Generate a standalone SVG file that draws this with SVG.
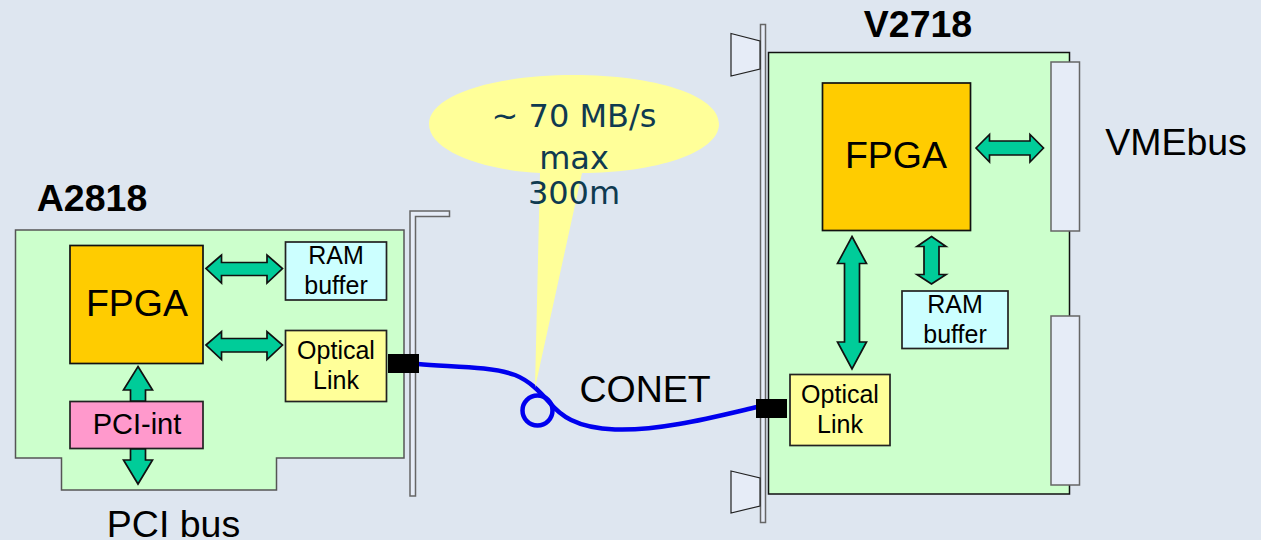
<svg xmlns="http://www.w3.org/2000/svg" width="1261" height="540" viewBox="0 0 1261 540">
<style>
text{font-family:"Liberation Sans",Arial,sans-serif;fill:#000;text-anchor:middle}
.board{fill:#ccffcc;stroke:#555;stroke-width:1.5}
.boardb{fill:#ccffcc;stroke:#111;stroke-width:1.5}
.fpga{fill:#ffcc00;stroke:#111;stroke-width:1.7}
.ram{fill:#ccffff;stroke:#222;stroke-width:1.7}
.opt{fill:#ffff99;stroke:#222;stroke-width:1.7}
.pci{fill:#ff99cc;stroke:#222;stroke-width:1.7}
.arrow{fill:#00cc99;stroke:#111;stroke-width:1.7;stroke-linejoin:miter}
.metal{fill:#e6ecf7;stroke:#666;stroke-width:1.5}
.metalb{fill:#e6ecf7;stroke:#222;stroke-width:1.2}
.conn{fill:#000}
.lbl{font-size:29px}
.big{font-size:37.500px}
.small{font-size:25px}
.head{font-size:37.500px;font-weight:bold}
.ext{font-size:37.500px}
.bub{font-size:32px;fill:#0f3a50;font-family:"DejaVu Sans",sans-serif}
</style>
<rect width="1261" height="540" fill="#dee6f0"/>

<g id="a2818">
<text x="92" y="211" class="head">A2818</text>
<path class="board" d="M15.500 230H404V458H276.500V490H61.500V458H15.500Z"/>
<path id="bracket" class="metal" d="M410 211H449.500V216.500H415.500V496H410Z"/>
</g>
<g id="a-fpga"><rect class="fpga" x="70" y="245.500" width="133" height="118"/><text x="137" y="315.500" class="big">FPGA</text></g>
<g id="a-ram"><rect class="ram" x="285.500" y="242" width="101" height="58"/><text x="336" y="264" class="small">RAM</text><text x="336" y="294" class="small">buffer</text></g>
<g id="a-opt"><rect class="opt" x="285.500" y="330.500" width="101" height="71"/><text x="336" y="359" class="small">Optical</text><text x="336" y="388.500" class="small">Link</text></g>
<g id="a-pci"><rect class="pci" x="70" y="401.500" width="133" height="47"/><text x="137" y="434" class="lbl">PCI-int</text></g>
<text x="173.500" y="536.500" class="ext">PCI bus</text>

<g id="v2718">
<text x="918" y="37" class="head">V2718</text>
<path class="boardb" d="M768.500 52.500H1069.500V494H768.500Z"/>
<rect class="metal" x="760.500" y="24.500" width="5" height="498"/>
<path class="metalb" d="M731 33.500L760 41V69L731 76Z"/>
<path class="metalb" d="M731 471L760 478V506L731 513Z"/>
<rect class="metal" x="1051" y="62" width="28.500" height="169"/>
<rect class="metal" x="1051" y="316" width="28.500" height="169"/>
</g>
<g id="v-fpga"><rect class="fpga" x="822.500" y="83" width="148" height="147.500"/><text x="896" y="168" class="big">FPGA</text></g>
<g id="v-ram"><rect class="ram" x="902" y="291" width="106" height="57.500"/><text x="955" y="312.500" class="small">RAM</text><text x="955" y="342.500" class="small">buffer</text></g>
<g id="v-opt"><rect class="opt" x="790" y="374.500" width="100" height="71"/><text x="840" y="402.500" class="small">Optical</text><text x="840" y="433" class="small">Link</text></g>
<text x="1176" y="155" class="ext">VMEbus</text>

<g id="connectors">
<path class="arrow" d="M206 268.500L221.500 255V262.500H267V255L282.500 268.500L267 283V275.500H221.500V283Z"/>
<path class="arrow" d="M206 345L221.500 331.500V338.500H267V331.500L282.500 345L267 359.500V352H221.500V359.500Z"/>
<path class="arrow" d="M138 366.500L152.500 390H145.500V401H130.500V390H123.500Z"/>
<path class="arrow" d="M130.500 449H145.500V460H152.500L138 484L123.500 460H130.500Z"/>
<path class="arrow" d="M976 148L989.500 134.500V141H1030V134.500L1043.500 148L1030 162V155H989.500V162Z"/>
<path class="arrow" d="M852 236.500L866.500 263.500H859.500V342H866.500L852 369L837.500 342H844.500V263.500H837.500Z"/>
<path class="arrow" d="M931.500 236.500L946 246.500H939V274.500H946L931.500 284L917 274.500H924V246.500H917Z"/>
<path id="fibre" fill="none" stroke="#0000ee" stroke-width="4.500" d="M418 364C450 367 490 366 515 375C530 381 540 392 549 402C560 415 575 428 615 429.500C660 431 710 418 757 407"/>
<circle id="fibre-loop" cx="537.500" cy="410.500" r="15" fill="none" stroke="#0000ee" stroke-width="4.500"/>
<rect class="conn" x="388" y="354" width="31" height="19"/>
<rect class="conn" x="756" y="399" width="31" height="19"/>
</g>

<g id="bubble">
<path d="M429 124C429 95 494 75 574 75C654 75 719 95 719 124C719 153 654 173 582 173L535 388L540 173C480 170 429 150 429 124Z" fill="#ffff99"/>
<text x="574" y="127" class="bub">~ 70 MB/s</text>
<text x="574" y="169" class="bub">max</text>
<text x="574" y="204" class="bub">300m</text>
</g>
<text x="645" y="402" class="ext" id="conet">CONET</text>
</svg>
